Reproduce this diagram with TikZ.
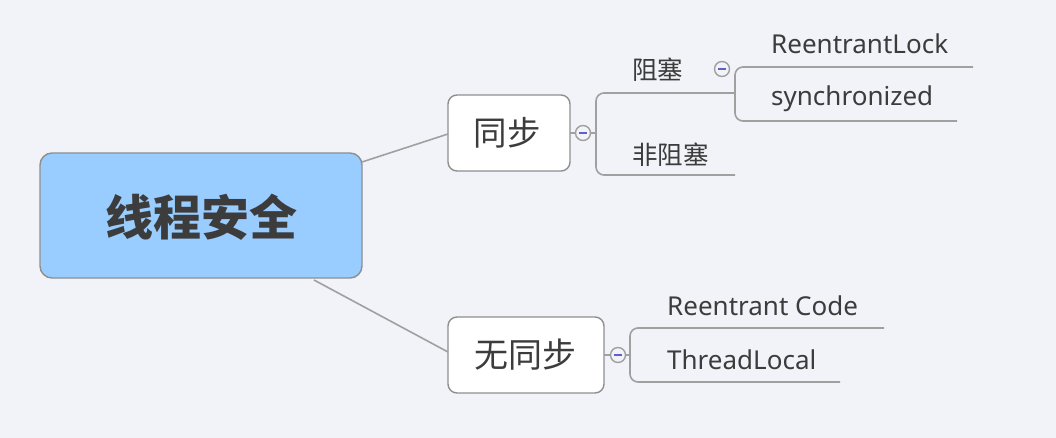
\documentclass[tikz,border=0pt]{standalone}
\usepackage{fontspec}
\setmainfont{Noto Sans CJK SC}
\newfontfamily\latinf{Noto Sans}
\definecolor{bg}{HTML}{F2F3F8}
\definecolor{ln}{HTML}{A0A0A0}
\definecolor{bd}{HTML}{8F8F8F}
\definecolor{rootfill}{HTML}{99CCFF}
\definecolor{txt}{HTML}{3C3C3C}
\begin{document}
\begin{tikzpicture}[x=1pt,y=-1pt,
  conn/.style={draw=ln,line width=1.6pt},
  topicbox/.style={draw=bd,line width=1.4pt,fill=white,rounded corners=9pt},
  toggle/.style={circle,draw=ln,line width=1.4pt,fill=bg,minimum size=15pt,inner sep=0pt},
  lbl/.style={anchor=west,inner sep=0pt,text=txt,font=\latinf\fontsize{26}{28}\selectfont},
  cjklbl/.style={anchor=west,inner sep=0pt,text=txt,font=\fontsize{25.5}{27}\selectfont},
  minus/.style={color=ln!60!blue,line width=1.4pt},
]
\fill[bg] (0,0) rectangle (1056,438);
\useasboundingbox (0,0) rectangle (1056,438);

% root
\draw[draw=bd,line width=1.4pt,fill=rootfill,rounded corners=12pt] (40,153) rectangle (362,278);
\node[text=txt,font=\fontsize{48}{52}\selectfont\bfseries] (root) at (201,217) {线程安全};
\coordinate (r1) at (362,162);
\coordinate (r2) at (314,280);

% level 1
\draw[topicbox] (448,95) rectangle (570,171);
\node[text=txt,font=\fontsize{33.5}{36}\selectfont] (sync) at (507,133) {同步};
\draw[topicbox] (448,317) rectangle (604,393);
\node[text=txt,font=\fontsize{34}{36}\selectfont] (nosync) at (525,355) {无同步};
\coordinate (s1) at (448,134);
\coordinate (s2) at (448,352);
\draw[conn] (r1) -- (s1);
\draw[conn] (r2) -- (s2);

% bracket for 同步
\coordinate (b1a) at (570,133);
\node[toggle] (t1) at (583,133) {};
\draw[minus] (579,133) -- (587,133);
\draw[conn] (b1a) -- (t1.west);
\coordinate (b1m) at (596,133);
\coordinate (b1top) at (735,93);
\coordinate (b1bot) at (735,175);
\draw[conn] (t1.east) -- (b1m);
\draw[conn,rounded corners=8pt] (b1top) -- (596,93) -- (596,175) -- (b1bot);
\node[cjklbl] (block) at (632,70) {阻塞};
\node[cjklbl] (nonblock) at (632,155) {非阻塞};

% bracket for 阻塞
\node[toggle] (t2) at (722,69) {};
\draw[minus] (718,69) -- (726,69);
\coordinate (b2top) at (973,67);
\coordinate (b2bot) at (957,121);
\draw[conn,rounded corners=8pt] (b2top) -- (735,67) -- (735,121) -- (b2bot);
\node[lbl] (rl) at (771,44) {ReentrantLock};
\node[lbl] (syn) at (771,99) {synchronized};

% bracket for 无同步
\coordinate (b3a) at (604,355);
\node[toggle] (t3) at (618,355) {};
\draw[minus] (614,355) -- (622,355);
\draw[conn] (b3a) -- (t3.west);
\coordinate (b3m) at (630,355);
\draw[conn] (t3.east) -- (b3m);
\coordinate (b3top) at (884,328);
\coordinate (b3bot) at (840,382);
\draw[conn,rounded corners=8pt] (b3top) -- (630,328) -- (630,382) -- (b3bot);
\node[lbl] (rc) at (667,306) {Reentrant Code};
\node[lbl] (tl) at (667,360) {ThreadLocal};
\end{tikzpicture}
\end{document}
